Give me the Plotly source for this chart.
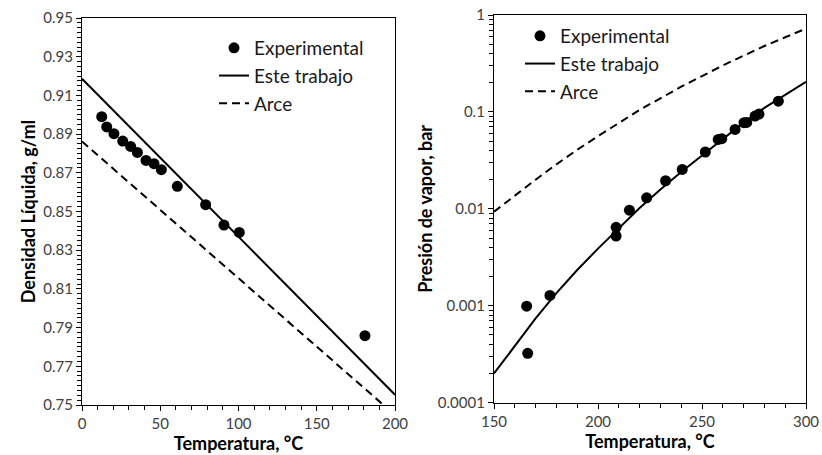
import plotly.graph_objects as go

# ---- Densidad líquida vs temperatura ----
dens_exp_T = [12.6, 15.8, 20.4, 26.0, 31.1, 35.4, 40.9, 46.0, 50.7, 60.9, 79.0, 90.7, 100.5, 180.8]
dens_exp = [0.899, 0.8937, 0.8902, 0.8864, 0.8836, 0.8805, 0.8764, 0.8747, 0.8716, 0.863,
            0.8535, 0.843, 0.8392, 0.7858]
dens_este_T = [0, 200]
dens_este = [0.9186, 0.7553]
dens_arce_T = [0, 200]
dens_arce = [0.8862, 0.7448]

# ---- Presión de vapor vs temperatura ----
pv_exp_T = [165.7, 166.2, 176.9, 208.7, 208.7, 215.1, 223.4, 232.5, 240.5, 251.6, 257.8,
            259.5, 265.9, 270.2, 271.5, 275.5, 277.4, 286.7]
pv_exp = [0.00099, 0.000323, 0.00128, 0.00644, 0.00524, 0.0097, 0.0130, 0.0195, 0.0255,
          0.0386, 0.052, 0.053, 0.066, 0.0774, 0.078, 0.0907, 0.095, 0.129]
pv_curve_T = [150, 160, 170, 180, 190, 200, 210, 220, 230, 240, 250, 260, 270, 280, 290, 300]
pv_este = [0.000200, 0.000389, 0.000741, 0.00135, 0.00234, 0.00389, 0.00631, 0.0102,
           0.0158, 0.0240, 0.0355, 0.0525, 0.0776, 0.110, 0.151, 0.204]
pv_arce = [0.00933, 0.0138, 0.0200, 0.0288, 0.0407, 0.0562, 0.0776, 0.105, 0.138, 0.182,
           0.234, 0.302, 0.380, 0.479, 0.589, 0.724]

log_tickvals = [0.0001, 0.001, 0.01, 0.1, 1]
log_ticktext = ["0.0001", "0.001", "0.01", "0.1", "1"]

FONT = "Lato, Open Sans, sans-serif"
TICK_COLOR = "#404040"
MARKER = dict(color="black", size=11, symbol="circle")
LINE_SOLID = dict(color="black", width=2)
LINE_DASH = dict(color="black", width=2, dash="8px,5px")

fig = go.Figure()

# left panel
fig.add_trace(go.Scatter(x=dens_exp_T, y=dens_exp, mode="markers", marker=MARKER,
                         name="Experimental", legendgroup="a", legend="legend",
                         xaxis="x", yaxis="y", cliponaxis=False))
fig.add_trace(go.Scatter(x=dens_este_T, y=dens_este, mode="lines", line=LINE_SOLID,
                         name="Este trabajo", legendgroup="b", legend="legend",
                         xaxis="x", yaxis="y"))
fig.add_trace(go.Scatter(x=dens_arce_T, y=dens_arce, mode="lines", line=LINE_DASH,
                         name="Arce", legendgroup="c", legend="legend",
                         xaxis="x", yaxis="y"))

# right panel
fig.add_trace(go.Scatter(x=pv_exp_T, y=pv_exp, mode="markers", marker=MARKER,
                         name="Experimental", legendgroup="a", legend="legend2",
                         xaxis="x2", yaxis="y2", cliponaxis=False))
fig.add_trace(go.Scatter(x=pv_curve_T, y=pv_este, mode="lines", line=LINE_SOLID,
                         name="Este trabajo", legendgroup="b", legend="legend2",
                         xaxis="x2", yaxis="y2"))
fig.add_trace(go.Scatter(x=pv_curve_T, y=pv_arce, mode="lines", line=LINE_DASH,
                         name="Arce", legendgroup="c", legend="legend2",
                         xaxis="x2", yaxis="y2"))

axis_common = dict(showline=True, linecolor="black", linewidth=1.3, mirror=True,
                   showgrid=False, zeroline=False, ticks="outside", ticklen=5,
                   tickcolor="black", tickwidth=1, automargin=False,
                   tickfont=dict(family=FONT, size=15, color=TICK_COLOR))
title_font = dict(family=FONT, size=18, color="black", weight="bold")

legend_common = dict(font=dict(family=FONT, size=19, color="#1a1a1a"),
                     bgcolor="rgba(0,0,0,0)", tracegroupgap=0,
                     xanchor="left", yanchor="top", itemclick=False)

fig.update_layout(
    width=822, height=455,
    margin=dict(l=0, r=0, t=0, b=0),
    paper_bgcolor="white", plot_bgcolor="white",
    font=dict(family=FONT),
    showlegend=True,
    xaxis=dict(domain=[82 / 822, 395 / 822], range=[0, 200], dtick=50,
               minor=dict(dtick=10, ticks="outside", ticklen=4, tickcolor="black"),
               title=dict(text="Temperatura, °C", font=title_font, standoff=2),
               anchor="y", **axis_common),
    yaxis=dict(domain=[1 - 405 / 455, 1 - 18 / 455], range=[0.75, 0.95], dtick=0.02,
               tick0=0.75, tickformat=".2f",
               minor=dict(dtick=0.0025, tick0=0.75, ticks="outside", ticklen=4,
                          tickcolor="black"),
               title=dict(text="Densidad Líquida, g/ml", font=title_font, standoff=2),
               anchor="x", **axis_common),
    xaxis2=dict(domain=[494 / 822, 806 / 822], range=[150, 300], dtick=50,
                minor=dict(dtick=10, ticks="outside", ticklen=4, tickcolor="black"),
                title=dict(text="Temperatura, °C", font=title_font, standoff=2),
                anchor="y2", **axis_common),
    yaxis2=dict(domain=[1 - 402.7 / 455, 1 - 15 / 455], type="log", range=[-4, 0],
                tickvals=log_tickvals, ticktext=log_ticktext,
                minor=dict(dtick="D1", ticks="outside", ticklen=4, tickcolor="black"),
                title=dict(text="Presión de vapor, bar", font=title_font, standoff=0),
                anchor="x2", **axis_common),
    legend=dict(x=214 / 822, y=1 - 29 / 455, **legend_common),
    legend2=dict(x=520 / 822, y=1 - 17 / 455, **legend_common),
)

fig.write_html("out.html")
